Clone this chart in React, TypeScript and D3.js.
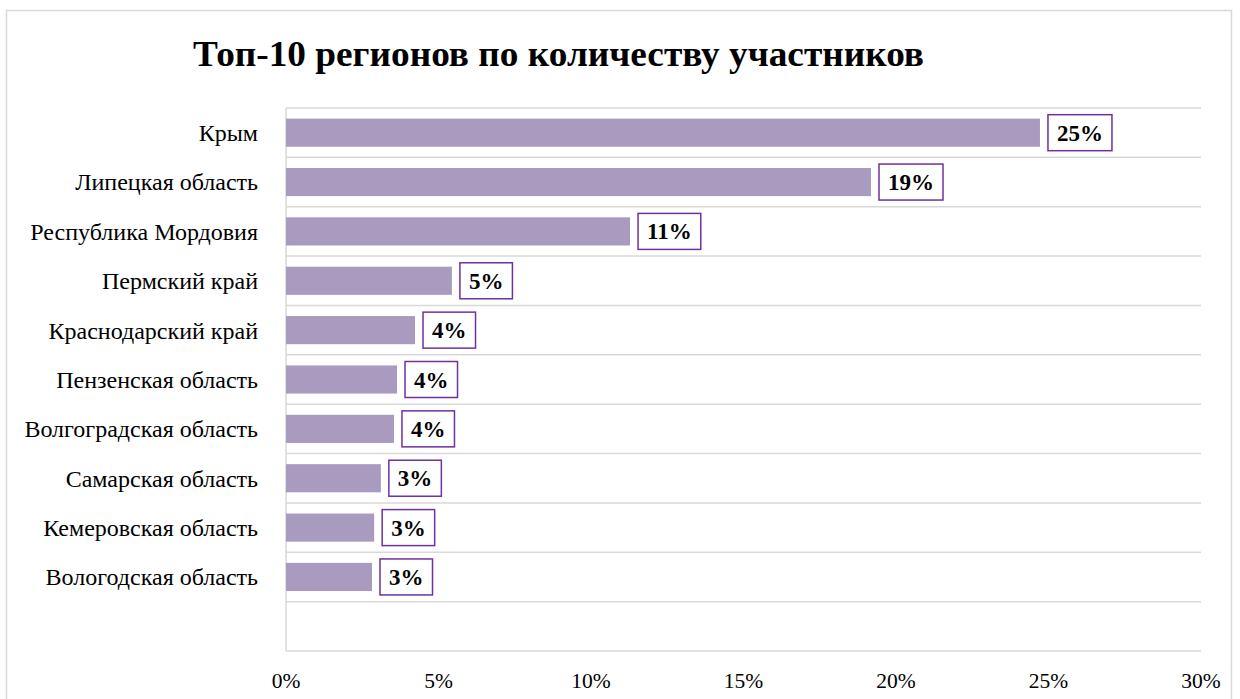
import React, { useRef, useEffect } from 'react';
import * as d3 from 'd3';

const regions = [
  'Крым',
  'Липецкая область',
  'Республика Мордовия',
  'Пермский край',
  'Краснодарский край',
  'Пензенская область',
  'Волгоградская область',
  'Самарская область',
  'Кемеровская область',
  'Вологодская область',
];
const shares = [24.72, 19.18, 11.28, 5.44, 4.23, 3.64, 3.54, 3.11, 2.89, 2.82];
const ticks = [0, 5, 10, 15, 20, 25, 30];
const title = 'Топ-10 регионов по количеству участников';

const W = 1240, H = 699;
const margin = { l: 286, r: 39, t: 108, b: 48 };
const font = '"Liberation Serif", "Times New Roman", serif';

export default function App() {
  const svg_ref = useRef<SVGSVGElement>(null);
  useEffect(() => draw(svg_ref.current!), []);
  return (
    <svg ref={svg_ref} width={W} height={H}
      style={{ position: 'absolute', left: 0, top: 0, background: '#fff' }} />
  );
}

function draw(el: SVGSVGElement) {
  const svg = d3.select(el);
  svg.selectAll('*').remove();

  const x0 = margin.l, x1 = W - margin.r;
  const y0 = margin.t, y1 = H - margin.b;

  // 11 slots: 10 regions + empty one at the bottom
  const slot = d3.scaleLinear().domain([0, regions.length + 1]).range([y0, y1]);

  const x = d3.scaleLinear().domain([0, 30]).range([x0, x1]);
  const y = d3.scaleBand<string>()
    .domain(regions)
    .range([y0, slot(regions.length)])
    .paddingInner(0.43)
    .paddingOuter(0.215);

  // outer frame
  svg.append('rect')
    .attr('x', 6.5).attr('y', 10.5)
    .attr('width', 1225).attr('height', 700)
    .attr('fill', 'none').attr('stroke', '#d9d9d9').attr('stroke-width', 1.5);

  svg.append('text')
    .attr('x', 193).attr('y', 66)
    .attr('textLength', 731).attr('lengthAdjust', 'spacingAndGlyphs')
    .style('font-family', font).style('font-weight', 'bold').style('font-size', '35px')
    .text(title);

  // horizontal grid lines
  svg.append('g').selectAll('line')
    .data(d3.range(0, regions.length + 2))
    .join('line')
    .attr('x1', x0).attr('x2', x1)
    .attr('y1', d => slot(d)).attr('y2', d => slot(d))
    .attr('stroke', '#d9d9d9').attr('stroke-width', 1.5);

  svg.append('line')
    .attr('x1', x0).attr('x2', x0).attr('y1', y0).attr('y2', y1)
    .attr('stroke', '#d9d9d9').attr('stroke-width', 1.5);

  // bars
  svg.append('g').selectAll('rect')
    .data(regions)
    .join('rect')
    .attr('x', x0)
    .attr('y', d => y(d)!)
    .attr('width', (d, i) => x(shares[i]) - x0)
    .attr('height', y.bandwidth())
    .attr('fill', '#a99bbf');

  // category labels
  svg.append('g').selectAll('text')
    .data(regions)
    .join('text')
    .attr('x', x0 - 28)
    .attr('y', d => y(d)! + y.bandwidth() / 2)
    .attr('dy', '0.35em')
    .attr('text-anchor', 'end')
    .style('font-family', font).style('font-size', '24px')
    .text(d => d);

  // value labels in boxes
  const lbl = svg.append('g').selectAll('g')
    .data(regions)
    .join('g')
    .attr('transform', (d, i) => `translate(${x(shares[i]) + 8},${y(d)! + y.bandwidth() / 2})`);
  lbl.append('text')
    .attr('x', 9)
    .attr('dy', '0.35em')
    .style('font-family', font).style('font-weight', 'bold').style('font-size', '23px')
    .text((d, i) => Math.round(shares[i]) + '%');
  lbl.each(function () {
    const g = d3.select(this);
    const t = (g.select('text').node() as SVGTextElement).getComputedTextLength();
    g.insert('rect', 'text')
      .attr('x', 0).attr('y', -18)
      .attr('width', t + 18).attr('height', 36)
      .attr('fill', '#fff').attr('stroke', '#7030a0').attr('stroke-width', 1.5);
  });

  // x tick labels
  svg.append('g').selectAll('text')
    .data(ticks)
    .join('text')
    .attr('x', d => x(d))
    .attr('y', y1 + 29)
    .attr('dy', '0.35em')
    .attr('text-anchor', 'middle')
    .style('font-family', font).style('font-size', '21.5px')
    .text(d => d + '%');
}
